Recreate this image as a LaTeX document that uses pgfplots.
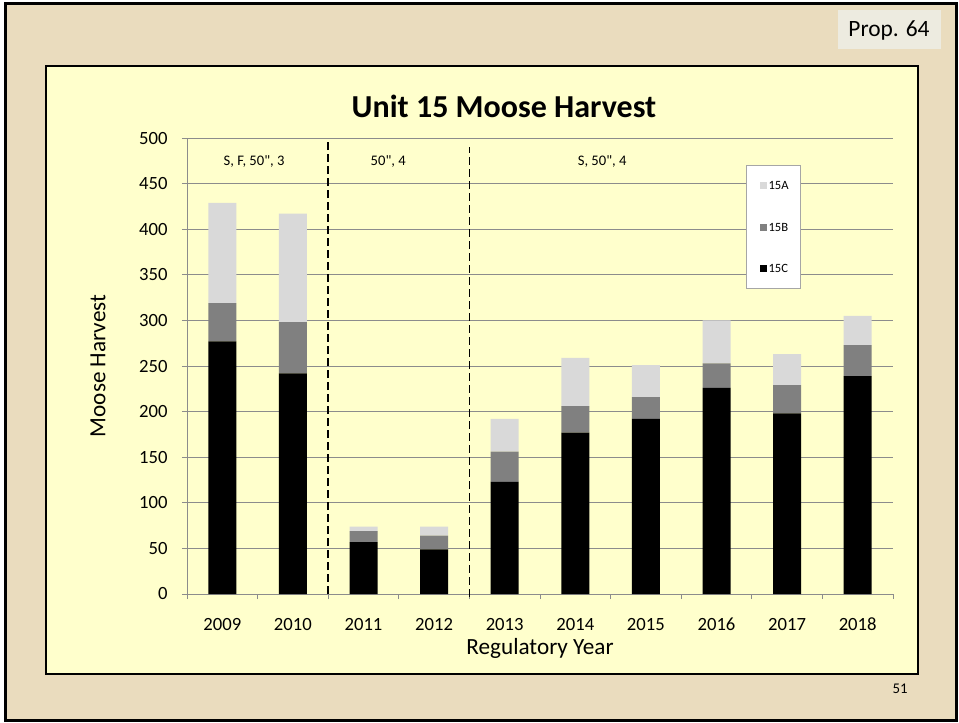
\documentclass[border=0pt]{standalone}
\usepackage{fontspec}
\setmainfont{Carlito}
\newfontfamily\carlplain{Carlito}
\usepackage{pgfplots}
\usepackage{pgfplotstable}
\pgfplotsset{compat=1.18}
\definecolor{parch}{HTML}{EADCBE}
\definecolor{plotbg}{HTML}{FFFFCC}
\definecolor{gridgray}{HTML}{8C8C8C}
\definecolor{cA}{HTML}{D9D9D9}
\definecolor{cB}{HTML}{808080}
\definecolor{cC}{HTML}{000000}
\definecolor{propbox}{HTML}{EDEBE0}

% harvest by subunit, regulatory year
\pgfplotstableread{
idx year C   B  A
0   2009 277 42 110
1   2010 242 56 119
2   2011 57  12 5
3   2012 49  15 10
4   2013 123 33 36
5   2014 177 29 53
6   2015 192 24 35
7   2016 226 27 47
8   2017 198 31 34
9   2018 239 34 32
}\harvest

\begin{document}
\begin{tikzpicture}
\begin{scope}[x=0.5pt,y=-0.5pt]
\useasboundingbox (0,0) rectangle (959,723);
\fill[white] (0,0) rectangle (959,723);
\fill[parch] (5,3) rectangle (956,720);
\draw[black,line width=1.5pt] (5,3) rectangle (956,720);
\fill[propbox] (838,10) rectangle (941,49);
\node[font=\fontsize{11.7}{14}\selectfont] at (889,30) {Prop. 64};
\draw[fill=plotbg,draw=black,line width=0.6pt] (46,66) rectangle (918,674);
\node[font=\fontsize{7.4}{9}\selectfont] at (900,689) {51};
\end{scope}

\begin{axis}[
  at={(93.5pt,-297pt)}, anchor=south west,
  scale only axis, width=353pt, height=228pt,
  ybar stacked, bar width=14pt,
  xmin=-0.5, xmax=9.5, ymin=0, ymax=500,
  xtick={0,...,9},
  xticklabels={2009,2010,2011,2012,2013,2014,2015,2016,2017,2018},
  minor xtick={-0.5,0.5,...,9.5},
  ytick={0,50,...,500},
  axis lines*=left,
  axis line style={draw=gridgray,line width=0.5pt},
  ymajorgrids, grid style={draw=gridgray,line width=0.5pt},
  tick align=outside, major tick length=2.5pt, minor tick length=2.5pt,
  major x tick style={draw=none},
  minor x tick style={draw=gridgray,line width=0.5pt},
  y tick style={draw=gridgray,line width=0.5pt},
  tick label style={font=\fontsize{9.33}{11}\selectfont,text=black},
  /pgf/number format/assume math mode=true,
  y tick label style={anchor=east,inner sep=0pt,xshift=-7pt},
  x tick label style={anchor=base,inner sep=0pt,yshift=-15.8pt},
  xlabel={Regulatory Year},
  xlabel style={at={(axis description cs:0.5,-0.12)},anchor=center,font=\fontsize{11.6}{14}\selectfont},
  ylabel={Moose Harvest},
  ylabel style={at={(axis description cs:-0.126,0.5)},anchor=center,font=\fontsize{11.6}{14}\selectfont},
  title={Unit 15 Moose Harvest},
  every axis title/.style={at={(axis description cs:0.449,1.07)},anchor=center,font=\fontsize{16}{19}\selectfont\bfseries},
  legend image code/.code={\path (0pt,0pt); \fill[#1] (1.5pt,-1.75pt) rectangle (5pt,1.75pt);},
  reverse legend, legend cell align=left,
  legend style={at={(rel axis cs:0.7918,0.9408)},anchor=north west,
    draw=gray!70,fill=white,line width=0.5pt,
    font=\fontsize{6.3}{7}\selectfont,
    row sep=12.75pt,inner xsep=5pt,inner ysep=6pt,
    nodes={inner sep=1pt,text height=5pt,text depth=1pt}},
  clip=false,
]
\addplot[fill=cC,draw=none] table[x=idx,y=C]{\harvest};
\addplot[fill=cB,draw=none] table[x=idx,y=B]{\harvest};
\addplot[fill=cA,draw=none] table[x=idx,y=A]{\harvest};
\legend{15C,15B,15A}
\draw[black,line width=0.8pt,dash pattern=on 4pt off 2pt] (axis cs:1.5,0) -- (axis cs:1.5,498);
\draw[black,line width=0.8pt,dash pattern=on 4pt off 2pt] (axis cs:3.5,-3) -- (axis cs:3.5,490);
\node[font=\carlplain\fontsize{7.3}{9}\selectfont] at (axis cs:0.45,474) {S, F, 50", 3};
\node[font=\carlplain\fontsize{7.3}{9}\selectfont] at (axis cs:2.35,474) {50", 4};
\node[font=\carlplain\fontsize{7.3}{9}\selectfont] at (axis cs:5.38,474) {S, 50", 4};
\end{axis}
\end{tikzpicture}
\end{document}
